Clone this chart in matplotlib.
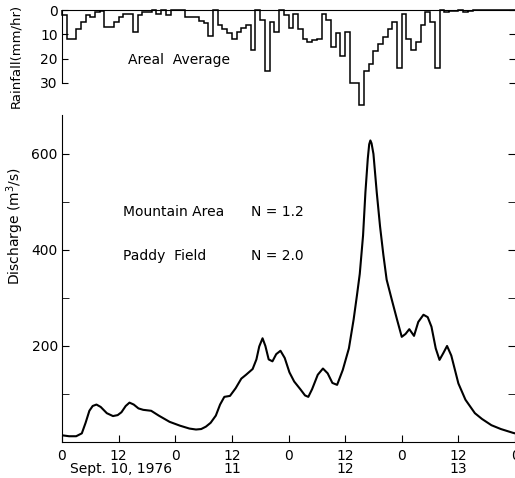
import numpy as np
import matplotlib
matplotlib.use("Agg")
import matplotlib.pyplot as plt

# hourly areal average rainfall (mm/hr), hour 0 = Sept 10 00:00
rain = [2, 12, 12, 8, 5, 2, 3, 1, 0.5, 7, 7, 5, 3, 1.5, 1.5, 9, 2, 1, 1, 0,
        1.5, 0, 2, 0, 0, 0, 3, 3, 3, 4.5, 5.5, 10.5, 0, 6, 8, 9.5, 12, 9, 7.5, 6,
        16.5, 0, 4, 25, 5, 9, 0, 2, 7.5, 1.5, 8, 12, 13, 12.5, 12, 1.5, 4, 15, 9.5, 19,
        9, 30, 30, 39, 25, 22, 17, 14, 11, 8, 5, 24, 1.5, 12, 16.5, 13, 6, 1, 5, 24,
        0, 1, 0.3, 0.3, 0, 0.7, 0.5, 0, 0, 0, 0, 0, 0, 0, 0, 0]
rain_edges = np.arange(len(rain) + 1)

# discharge hydrograph (m3/s)
q_hours = [0, 1.5, 3, 4.2, 5, 5.8, 6.5, 7.3, 8.2, 9.5, 10.8, 11.8, 12.6, 13.5, 14.3,
           15.2, 16.2, 17.2, 18.9, 20.5, 22.8, 25, 27, 28.4, 29.5, 30.5, 31.5, 32.6,
           33.5, 34.4, 35.0, 35.6, 36.8, 38, 39, 40.4, 41.2, 41.8, 42.5, 43.1, 43.8,
           44.6, 45.4, 46.3, 47.2, 48.2, 49.2, 50.5, 51.5, 52.2, 53, 54.2, 55.3, 56.3,
           57.3, 58.3, 59.5, 60.8, 61.8, 62.5, 63.1, 63.8, 64.3, 64.8, 65.1, 65.35, 65.6,
           66.0, 66.7, 67.4, 68.1, 68.8, 69.9, 71, 72, 72.8, 73.6, 74.6, 75.5, 76.6,
           77.5, 78.3, 79.2, 80, 80.8, 81.6, 82.5, 84, 85.5, 87.5, 89, 91, 93, 95.6, 96]
q_vals = [14, 12, 12, 18, 40, 65, 75, 78, 73, 60, 54, 56, 62, 75, 82,
          78, 70, 67, 65, 55, 42, 34, 28, 26, 27, 32, 40, 55,
          78, 94, 95, 96, 112, 132, 140, 152, 172, 199, 216, 200, 172,
          168, 183, 190, 175, 145, 126, 110, 97, 94, 110, 140, 153, 143,
          123, 119, 150, 195, 255, 305, 350, 430, 520, 590, 620, 628, 622,
          600, 520, 449, 390, 338, 296, 255, 219, 225, 235, 221, 250, 265,
          260, 240, 195, 171, 185, 200, 180, 122, 88, 60, 48, 35, 27, 19, 18]

hour_ticks = np.arange(0, 97, 12)
hour_labels = ["0", "12", "0", "12", "0", "12", "0", "12", "0"]
day_pos = [12.5, 36, 60, 84]
day_labels = ["Sept. 10, 1976", "11", "12", "13"]

plt.rcParams['font.family'] = ['DejaVu Sans']
plt.rcParams['font.size'] = 10

fig = plt.figure(figsize=(5.15, 4.78), dpi=100)
W, H = 515, 478
x0, x1 = 62, 515

# rainfall panel
axr = fig.add_axes([x0 / W, 1 - 83 / H, (x1 - x0) / W, 73 / H])
axr.stairs(rain, rain_edges, baseline=0, color="black", lw=1.1, clip_on=False)
axr.set_xlim(0, 96)
axr.set_ylim(30, 0)
axr.set_yticks([0, 10, 20, 30])
axr.set_yticklabels(["0", "10", "20", "30"])
axr.set_xticks([])
axr.spines['bottom'].set_visible(False)
axr.spines['right'].set_visible(False)
axr.tick_params(axis='y', direction='in', length=4, right=True, pad=3)
axr.text(14, 22, "Areal  Average", fontsize=10)
fig.text(16 / W, 1 - 56 / H, "Rainfall(mm/hr)", rotation=90, ha="center", va="center", fontsize=9.5)

# discharge panel
axq = fig.add_axes([x0 / W, 1 - 442 / H, (x1 - x0) / W, 327 / H])
axq.plot(q_hours, q_vals, color="black", lw=1.5)
axq.set_xlim(0, 96)
axq.set_ylim(0, 681)
axq.set_yticks([200, 400, 600])
axq.set_yticks([100, 300, 500], minor=True)
axq.set_xticks(hour_ticks)
axq.set_xticklabels(hour_labels)
axq.spines['top'].set_visible(False)
axq.spines['right'].set_visible(False)
axq.tick_params(axis='both', which='both', direction='in', length=5, pad=5)
axq.tick_params(axis='y', which='both', right=True, pad=3)
for xp, lab in zip(day_pos, day_labels):
    axq.text(xp, -0.06, lab, transform=axq.get_xaxis_transform(), ha="center", va="top", fontsize=10)
axq.set_ylabel("Discharge (m$^3$/s)", fontsize=10, labelpad=4)
axq.yaxis.set_label_coords(-0.08, 0.66)

axq.text(13, 470, "Mountain Area", fontsize=10)
axq.text(40, 470, "N = 1.2", fontsize=10)
axq.text(13, 380, "Paddy  Field", fontsize=10)
axq.text(40, 380, "N = 2.0", fontsize=10)

fig.savefig("out.png", dpi=100)
